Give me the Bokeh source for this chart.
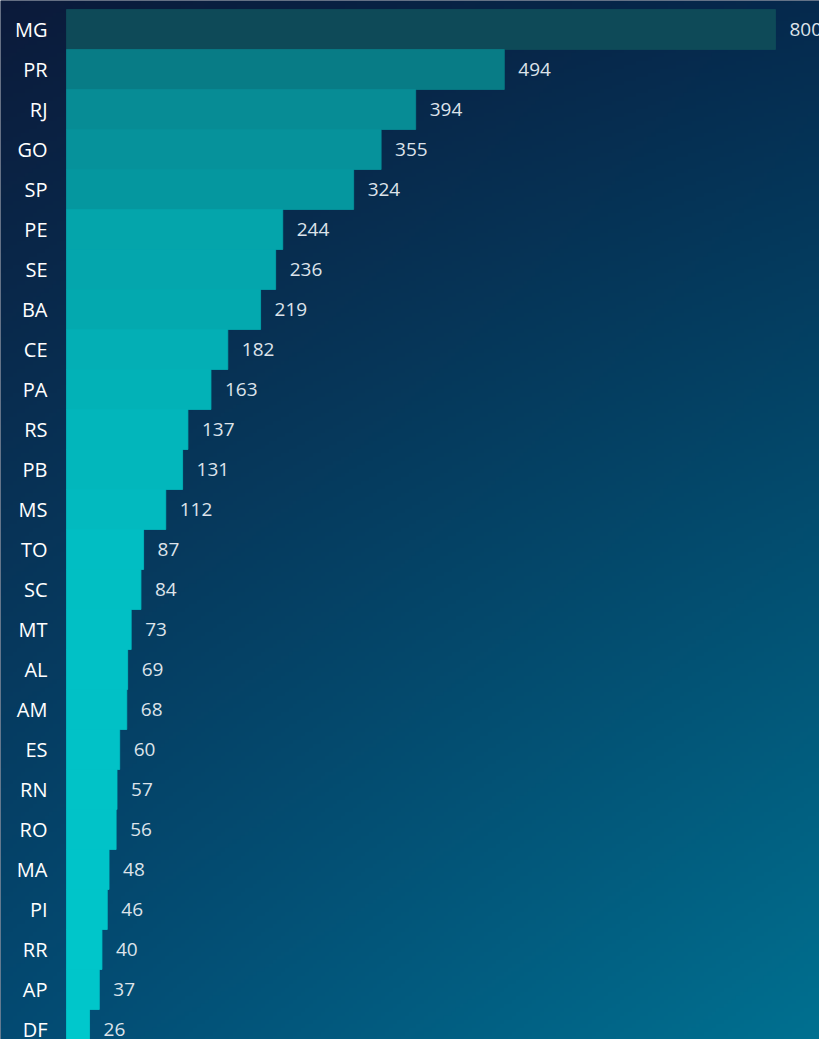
import numpy as np
from bokeh.plotting import figure
from bokeh.models import ColumnDataSource, Range1d
from bokeh.core.properties import value
from bokeh.embed import file_html
from bokeh.resources import INLINE

states = ["MG", "PR", "RJ", "GO", "SP", "PE", "SE", "BA", "CE", "PA", "RS", "PB", "MS",
          "TO", "SC", "MT", "AL", "AM", "ES", "RN", "RO", "MA", "PI", "RR", "AP", "DF"]
counts = [800, 494, 394, 355, 324, 244, 236, 219, 182, 163, 137, 131, 112,
          87, 84, 73, 69, 68, 60, 57, 56, 48, 46, 40, 37, 26]

W, H = 819, 1039
px_per_unit = 709 / 800.0
left_px = 66
x0 = -left_px / px_per_unit
x1 = (W - left_px) / px_per_unit
row_px = 40.0
top_center_px = 29
y_top = top_center_px / row_px
y_bot = -(H - top_center_px) / row_px

# bar colours: linear in value between bright cyan (min) and dark teal (max)
lo_c = np.array([0x00, 0xC8, 0xCC])
hi_c = np.array([0x0E, 0x4A, 0x58])
vmin, vmax = min(counts), max(counts)
colors = []
for v in counts:
    f = (v - vmin) / (vmax - vmin)
    c = lo_c + f * (hi_c - lo_c)
    colors.append("#%02x%02x%02x" % tuple(int(round(t)) for t in c))

src = ColumnDataSource(dict(
    y=[-i for i in range(len(states))],
    state=states,
    count=counts,
    label=[str(c) for c in counts],
    color=colors,
))

p = figure(width=W, height=H, output_backend="svg", toolbar_location=None,
           x_range=Range1d(x0, x1), y_range=Range1d(y_bot, y_top),
           min_border=0, outline_line_color=None)
p.axis.visible = False
p.grid.visible = False
p.background_fill_color = "#0b1a3a"
p.border_fill_color = "#0b1a3a"

# background gradient (bilinear between corner colours)
TL = np.array([0x0B, 0x1A, 0x3A]); TR = np.array([0x05, 0x29, 0x4D])
BL = np.array([0x03, 0x4A, 0x72]); BR = np.array([0x00, 0x70, 0x90])
ny, nx = 260, 205
img = np.empty((ny, nx), dtype=np.uint32)
view = img.view(dtype=np.uint8).reshape((ny, nx, 4))
u = np.linspace(0, 1, nx)[None, :, None]
vv = np.linspace(1, 0, ny)[:, None, None]  # row 0 = bottom
col = (1 - vv) * ((1 - u) * TL + u * TR) + vv * ((1 - u) * BL + u * BR)
view[:, :, :3] = np.round(col).astype(np.uint8)
view[:, :, 3] = 255
p.image_rgba(image=[img], x=x0, y=y_bot, dw=x1 - x0, dh=y_top - y_bot)

p.hbar(y="y", left=0, right="count", height=1.0, source=src,
       fill_color="color", line_color="color", line_width=0.8)

p.text(x=0, y="y", text="state", source=src, x_offset=-19,
       text_align="right", text_baseline="middle", text_color="white",
       text_font=value("Open Sans"), text_font_size="20px")

p.text(x="count", y="y", text="label", source=src, x_offset=14,
       text_align="left", text_baseline="middle", text_color="#dde3ea",
       text_font=value("Open Sans"), text_font_size="19px")

open("out.html", "w").write(file_html(p, INLINE))
